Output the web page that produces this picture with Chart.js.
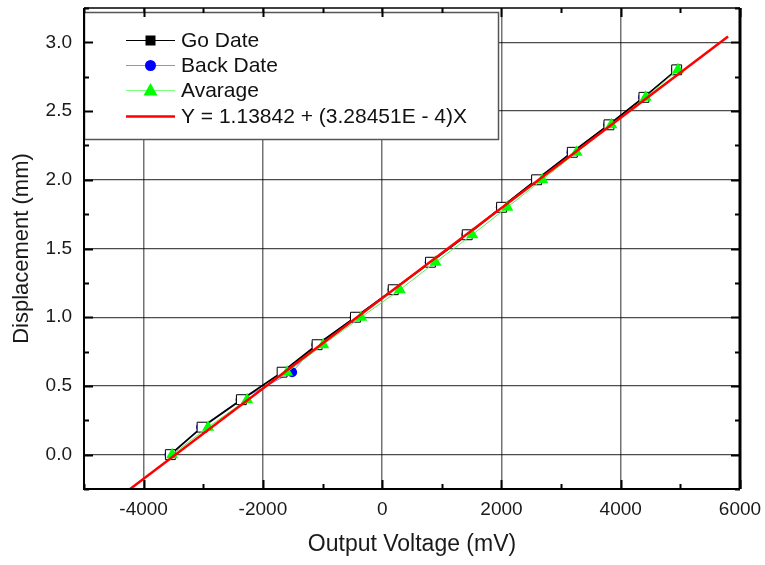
<!DOCTYPE html>
<html>
<head>
<meta charset="utf-8">
<script src="https://cdn.jsdelivr.net/npm/chart.js@4.4.1/dist/chart.umd.min.js"></script>
<style>
  html, body { margin: 0; padding: 0; background: #ffffff; }
  #wrap { width: 765px; height: 565px; }
</style>
</head>
<body>
<div id="wrap"><canvas id="chart" width="765" height="565"></canvas></div>
<script>
// Displacement steps (mm)
const displacement = [0, 0.2, 0.4, 0.6, 0.8, 1.0, 1.2, 1.4, 1.6, 1.8, 2.0, 2.2, 2.4, 2.6, 2.8];
// Output voltage (mV) measured going forward
const voltageGo = [-3552, -3020, -2361, -1678, -1091, -448, 185, 810, 1426, 2002, 2589, 3188, 3802, 4389, 4938];
// Output voltage (mV) measured coming back
const voltageBack = [-3565, -3035, -2375, -1510, -1105, -462, 172, 797, 1412, 1990, 2576, 3175, 3790, 4377, 4926];
// Averaged output voltage (mV)
const voltageAvg = [-3523, -2919, -2265, -1594, -990, -352, 295, 894, 1510, 2097, 2685, 3260, 3842, 4418, 4960];

// Linear fit Y = a + bX
const fitIntercept = 1.13842;
const fitSlope = 3.28451e-4;
const fitXRange = [-4300, 5800];

const xTickValues = [-4000, -2000, 0, 2000, 4000, 6000];
const yTickValues = [0, 0.5, 1.0, 1.5, 2.0, 2.5, 3.0];

const legendLabels = ['Go Date', 'Back Date', 'Avarage', 'Y = 1.13842 + (3.28451E - 4)X'];

const FONT = "'Liberation Sans', Arial, sans-serif";

const toPoints = (xs) => xs.map((x, i) => ({ x: x, y: displacement[i] }));
const fitPoints = fitXRange.map((x) => ({ x: x, y: fitIntercept + fitSlope * x }));

// inward tick marks and the heavy frame round the plot
const frameTicks = {
  id: 'frameTicks',
  afterDraw(chart) {
    const { ctx, chartArea: a, scales: { x, y } } = chart;
    ctx.save();
    ctx.strokeStyle = '#000';
    ctx.lineWidth = 2;
    ctx.beginPath();
    for (let v = x.min; v <= x.max + 1e-9; v += 1000) {
      const px = Math.round(x.getPixelForValue(v)) + 0.5;
      const len = (Math.round(v) % 2000 === 0) ? 9 : 5;
      ctx.moveTo(px, a.bottom); ctx.lineTo(px, a.bottom - len);
      ctx.moveTo(px, a.top); ctx.lineTo(px, a.top + len);
    }
    for (let v = y.min; v <= y.max + 1e-9; v += 0.25) {
      const py = Math.round(y.getPixelForValue(v)) + 0.5;
      const major = Math.abs(Math.round(v * 2) - v * 2) < 1e-6;
      const len = major ? 9 : 5;
      ctx.moveTo(a.left, py); ctx.lineTo(a.left + len, py);
      ctx.moveTo(a.right, py); ctx.lineTo(a.right - len, py);
    }
    ctx.stroke();
    // frame
    ctx.lineWidth = 1.5;
    ctx.beginPath();
    ctx.moveTo(a.left, a.top); ctx.lineTo(a.right, a.top);
    ctx.stroke();
    ctx.lineWidth = 2;
    ctx.beginPath();
    ctx.moveTo(a.left, a.top); ctx.lineTo(a.left, a.bottom); ctx.lineTo(a.right, a.bottom);
    ctx.stroke();
    ctx.lineWidth = 3;
    ctx.beginPath();
    ctx.moveTo(a.right, a.top); ctx.lineTo(a.right, a.bottom);
    ctx.stroke();
    ctx.restore();
  }
};

// boxed legend with line-through-marker samples
const boxLegend = {
  id: 'boxLegend',
  afterDatasetsDraw(chart) {
    const { ctx, chartArea: a } = chart;
    const left = a.left, top = 12, right = 499, bottom = 140;
    ctx.save();
    ctx.fillStyle = '#fff';
    ctx.fillRect(left, top, right - left, bottom - top);
    ctx.strokeStyle = '#555';
    ctx.lineWidth = 1.5;
    ctx.strokeRect(left + 0.5, top + 0.5, right - left - 1, bottom - top - 1);

    const rows = [40.5, 65.5, 90.5, 116.5];
    const x0 = 126, x1 = 175, xm = 150.5, xt = 181;
    const ds = chart.data.datasets;
    rows.forEach((ry, i) => {
      const d = ds[i];
      ctx.strokeStyle = d.legendLine;
      ctx.lineWidth = d.legendLineWidth;
      ctx.beginPath();
      ctx.moveTo(x0, ry); ctx.lineTo(x1, ry);
      ctx.stroke();
      ctx.fillStyle = d.legendFill;
      if (d.pointStyle === 'rect') {
        ctx.fillRect(xm - 5, ry - 5, 10, 10);
      } else if (d.pointStyle === 'circle') {
        ctx.beginPath(); ctx.arc(xm, ry, 5.5, 0, Math.PI * 2); ctx.fill();
      } else if (d.pointStyle === 'triangle') {
        ctx.beginPath();
        ctx.moveTo(xm, ry - 7.5); ctx.lineTo(xm + 7, ry + 5); ctx.lineTo(xm - 7, ry + 5);
        ctx.closePath(); ctx.fill();
      }
      ctx.fillStyle = '#111';
      ctx.font = '21px ' + FONT;
      ctx.textBaseline = 'middle';
      ctx.textAlign = 'left';
      ctx.fillText(legendLabels[i], xt, ry + 1);
    });
    ctx.restore();
  }
};

new Chart(document.getElementById('chart'), {
  type: 'scatter',
  data: {
    datasets: [
      {
        label: legendLabels[0],
        data: toPoints(voltageGo),
        showLine: true,
        borderColor: '#000',
        borderWidth: 1.8,
        pointStyle: 'rect',
        pointRadius: 7,
        pointBackgroundColor: '#fff',
        pointBorderColor: '#000',
        pointBorderWidth: 1,
        legendLine: '#000', legendLineWidth: 1, legendFill: '#000',
        order: 2
      },
      {
        label: legendLabels[1],
        data: toPoints(voltageBack),
        showLine: true,
        borderColor: '#7f7fff',
        borderWidth: 1,
        pointStyle: 'circle',
        pointRadius: 5,
        pointBackgroundColor: '#0000ff',
        pointBorderColor: '#0000ff',
        pointBorderWidth: 0,
        legendLine: '#8c8cff', legendLineWidth: 1.2, legendFill: '#0000ff',
        order: 3
      },
      {
        label: legendLabels[2],
        data: toPoints(voltageAvg),
        showLine: true,
        borderColor: '#55ee55',
        borderWidth: 1,
        pointStyle: 'triangle',
        pointRadius: 7,
        pointBackgroundColor: '#00ff00',
        pointBorderColor: '#00ff00',
        pointBorderWidth: 0,
        legendLine: '#7fff7f', legendLineWidth: 1.2, legendFill: '#00ff00',
        order: 1
      },
      {
        label: legendLabels[3],
        data: fitPoints,
        showLine: true,
        borderColor: '#ff0000',
        borderWidth: 2.5,
        pointRadius: 0,
        legendLine: '#ff0000', legendLineWidth: 2.5, legendFill: '#ff0000',
        order: 0
      }
    ]
  },
  options: {
    responsive: false,
    animation: false,
    layout: { padding: { top: 7, right: 25, left: 0, bottom: 0 } },
    plugins: { legend: { display: false }, tooltip: { enabled: false } },
    scales: {
      x: {
        type: 'linear',
        min: -5000,
        max: 6000,
        afterBuildTicks: (s) => { s.ticks = xTickValues.map((v) => ({ value: v })); },
        afterFit: (s) => { s.height = 76; s.paddingLeft = 0; s.paddingRight = 0; },
        border: { display: false },
        grid: { color: 'rgba(0,0,0,0.55)', lineWidth: 1.5, drawTicks: false },
        ticks: { padding: 9, color: '#1a1a1a', font: { family: FONT, size: 19 }, maxRotation: 0,
                 callback: (v) => String(v) },
        title: { display: true, text: 'Output Voltage (mV)', color: '#1a1a1a',
                 font: { family: FONT, size: 23 }, padding: { top: 0, bottom: 7 } }
      },
      y: {
        type: 'linear',
        min: -0.25,
        max: 3.25,
        afterBuildTicks: (s) => { s.ticks = yTickValues.map((v) => ({ value: v })); },
        afterFit: (s) => { s.width = 84; s.paddingTop = 0; s.paddingBottom = 0; },
        border: { display: false },
        grid: { color: 'rgba(0,0,0,0.7)', lineWidth: 1.2, drawTicks: false },
        ticks: { padding: 12, color: '#1a1a1a', font: { family: FONT, size: 19 },
                 callback: (v) => Number(v).toFixed(1) },
        title: { display: true, text: 'Displacement (mm)', color: '#1a1a1a',
                 font: { family: FONT, size: 22 }, padding: { top: 9, bottom: 0 } }
      }
    }
  },
  plugins: [boxLegend, frameTicks]
});
</script>
</body>
</html>
